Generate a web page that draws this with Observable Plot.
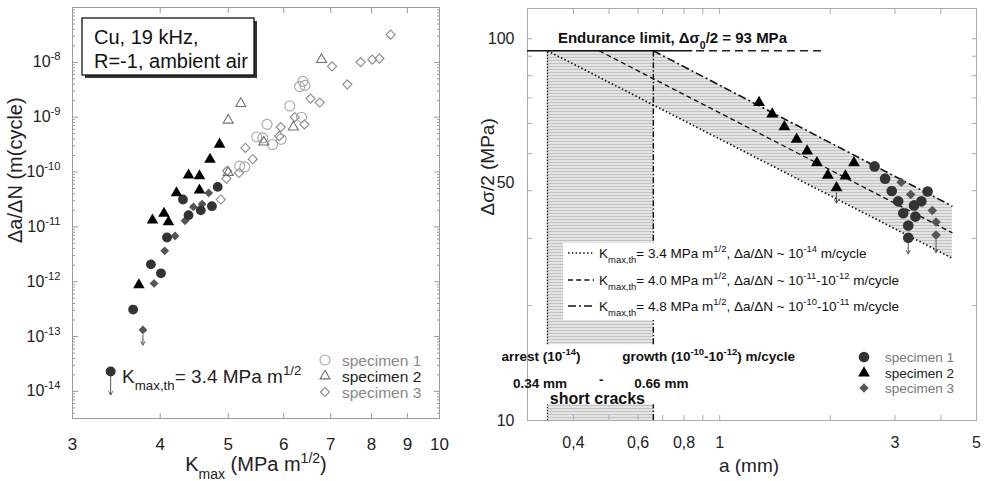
<!DOCTYPE html>
<html><head><meta charset="utf-8">
<script src="https://cdn.jsdelivr.net/npm/d3@7"></script>
<script src="https://cdn.jsdelivr.net/npm/@observablehq/plot@0.6"></script>
<style>
html,body{margin:0;padding:0;background:#fff;}
#chart{position:relative;width:987px;height:481px;overflow:hidden;background:#fff;}
#chart svg{position:absolute;top:0;}
</style></head><body><div id="chart"></div>
<script>
// ---------- LEFT PANEL DATA: K_max (MPa m^1/2) vs da/dN (m/cycle) ----------
const kTicks = [3, 4, 5, 6, 7, 8, 9, 10];
const rateDecades = [1e-14, 1e-13, 1e-12, 1e-11, 1e-10, 1e-9, 1e-8];

const spec1FilledK    = [3.66, 3.88, 4.01, 4.09, 4.31, 4.39, 4.57, 4.74, 4.83];
const spec1FilledRate = [3.1e-13, 2.07e-12, 1.42e-12, 6.4e-12, 3.15e-11, 1.63e-11, 2.0e-11, 2.38e-11, 5.35e-11];
const spec2FilledK    = [3.73, 3.90, 4.05, 4.11, 4.22, 4.39, 4.55, 4.55, 4.71, 4.86];
const spec2FilledRate = [8.7e-13, 1.32e-11, 1.75e-11, 1.23e-11, 4.16e-11, 8.75e-11, 8.5e-11, 4.66e-11, 1.69e-10, 3.2e-10];
const spec3FilledK    = [3.78, 3.92, 4.06, 4.20, 4.34, 4.46, 4.59, 4.69];
const spec3FilledRate = [1.32e-13, 9.3e-13, 3.65e-12, 6.8e-12, 1.29e-11, 2.31e-11, 2.6e-11, 4.16e-11];

const spec1OpenK    = [5.19, 5.28, 5.49, 5.60, 5.68, 5.78, 5.95, 6.12, 6.32, 6.39, 6.43, 6.36];
const spec1OpenRate = [1.28e-10, 1.24e-10, 4.36e-10, 4.2e-10, 7.4e-10, 3.17e-10, 3.95e-10, 1.6e-9, 3.6e-9, 4.5e-9, 3.8e-9, 1.0e-9];
const spec2OpenK    = [5.00, 5.21, 5.00, 5.62, 6.19, 6.79];
const spec2OpenRate = [8.8e-10, 1.77e-9, 9.8e-11, 3.5e-10, 6.6e-10, 1.12e-8];
const spec3OpenK    = [4.88, 4.98, 4.97, 5.18, 5.29, 5.42, 5.94, 5.91, 6.22, 6.42, 6.55, 6.75, 7.03, 7.39, 7.72, 8.02, 8.21, 8.52];
const spec3OpenRate = [3.15e-11, 1.05e-10, 7.6e-11, 9.6e-11, 2.75e-10, 1.71e-10, 6.6e-10, 4.5e-10, 1.0e-9, 7.4e-10, 2.18e-9, 1.85e-9, 8.45e-9, 3.97e-9, 1.01e-8, 1.12e-8, 1.17e-8, 3.2e-8];

const thresholdK = [3.4], thresholdRate = [2.3e-14], thresholdArrowTo = [8.6e-15];
const runoutLeftK = [3.78], runoutLeftRate = [1.32e-13], runoutLeftTo = [7e-14];

// ---------- RIGHT PANEL DATA: a (mm) vs stress amplitude (MPa) ----------
const aTickLabels = [0.4, 0.6, 0.8, 1, 3, 5];
const aTicks = [0.3, 0.4, 0.5, 0.6, 0.7, 0.8, 0.9, 1, 2, 3, 4, 5];
const sTicks = [10, 20, 30, 40, 50, 60, 70, 80, 90, 100];

const rSpec1A = [2.64, 2.82, 2.94, 3.06, 3.16, 3.26, 3.26, 3.38, 3.41, 3.54, 3.68];
const rSpec1S = [46.3, 43.0, 39.9, 37.5, 34.9, 32.4, 30.1, 36.6, 34.2, 37.5, 39.8];
const rSpec2A = [1.28, 1.39, 1.50, 1.62, 1.73, 1.84, 1.97, 2.08, 2.20, 2.32];
const rSpec2S = [68.0, 63.5, 58.8, 54.5, 50.8, 47.3, 43.9, 40.7, 43.7, 47.3];
const rSpec3A = [3.12, 3.31, 3.79, 3.88, 3.88];
const rSpec3S = [42.1, 39.1, 35.5, 33.1, 30.6];
const runoutRightA = [2.08, 3.26, 3.88];
const runoutRightS = [40.7, 30.1, 30.6];
const runoutRightTo = [37.1, 27.3, 27.5];

const enduranceLimit = 93;
const enduranceSolid = [0.3, 0.845];
const enduranceDashed = [0.865, 1.92];

const modelLabels = [
  "K_{max,th}= 3.4 MPa m^{1/2}, Δa/ΔN ~ 10^{-14} m/cycle",
  "K_{max,th}= 4.0 MPa m^{1/2}, Δa/ΔN ~ 10^{-11}-10^{-12} m/cycle",
  "K_{max,th}= 4.8 MPa m^{1/2}, Δa/ΔN ~ 10^{-10}-10^{-11} m/cycle"
];
const modelStartA = [0.34, 0.47, 0.66];
const modelStartS = [93, 93, 93];
const modelEndA = [4.3, 4.3, 4.3];
const modelEndS = [26.6, 31.0, 36.4];

const bandA = [0.66, 4.3];
const bandLow = [67.1, 26.6];
const bandHigh = [93, 36.4];

const shortCrackA = [0.34, 0.66];
const shortCrackLow = [15.8, 10];
const shortCrackHigh = [93, 11];

// ---------- helpers ----------
const zip = (xs, ys) => xs.map((x, i) => ({x, y: ys[i]}));
const FONT = '"Liberation Sans", Arial, Helvetica, sans-serif';
const NS = "http://www.w3.org/2000/svg";

function richify(root) {
  const els = Array.from(root.querySelectorAll("text, tspan"));
  for (const el of els) {
    if (el.children.length) continue;
    const s = el.textContent;
    if (!/[\^_]\{/.test(s)) continue;
    el.textContent = "";
    const re = /([\^_])\{([^}]*)\}/g;
    let last = 0, m;
    const add = (str, kind) => {
      const t = document.createElementNS(NS, "tspan");
      if (kind) {
        t.style.fontSize = "70%";
        t.setAttribute("baseline-shift", kind === "^" ? "0.6em" : "-0.55em");
      }
      t.textContent = str;
      el.appendChild(t);
    };
    while ((m = re.exec(s))) {
      if (m.index > last) add(s.slice(last, m.index));
      add(m[2], m[1]);
      last = re.lastIndex;
    }
    if (last < s.length) add(s.slice(last));
  }
}

// ---------- LEFT PLOT ----------
const rateMinor = [];
for (let e = -15; e <= -8; e++) for (let m = 2; m <= 9; m++) {
  const v = m * Math.pow(10, e);
  if (v >= 3.2e-15 && v <= 1e-7) rateMinor.push(v);
}
const tickOnlyL = {fill: "none", stroke: "#999", label: null};

const left = Plot.plot({
  width: 480, height: 481,
  marginLeft: 72, marginRight: 41, marginTop: 7, marginBottom: 63,
  style: {fontFamily: FONT, background: "transparent", overflow: "visible", color: "#222"},
  x: {type: "log", domain: [3, 10]},
  y: {type: "log", domain: [3.2e-15, 1e-7]},
  marks: [
    Plot.frame({stroke: "#9c9c9c"}),
    Plot.axisY({anchor: "left", ticks: rateDecades, tickSize: -6, ...tickOnlyL}),
    Plot.axisY({anchor: "left", ticks: rateMinor, tickSize: -3, ...tickOnlyL}),
    Plot.axisY({anchor: "right", ticks: rateDecades, tickSize: -6, ...tickOnlyL}),
    Plot.axisY({anchor: "right", ticks: rateMinor, tickSize: -3, ...tickOnlyL}),
    Plot.axisX({anchor: "bottom", ticks: kTicks, tickSize: -5, ...tickOnlyL}),
    Plot.axisX({anchor: "top", ticks: kTicks, tickSize: -5, ...tickOnlyL}),
    Plot.axisY({anchor: "left", ticks: rateDecades, tickSize: 0, tickPadding: 12, fontSize: 16, fill: "#222", label: null,
      tickFormat: d => `10^{${Math.round(Math.log10(d))}}`}),
    Plot.axisX({anchor: "bottom", ticks: kTicks, tickSize: 0, tickPadding: 19, fontSize: 17, fill: "#222", label: null,
      tickFormat: d => String(d)}),
    Plot.text(["Δa/ΔN (m(cycle)"], {text: d => d, frameAnchor: "left", rotate: -90, dx: -57, dy: 30, fontSize: 20, fill: "#222", lineAnchor: "middle"}),
    Plot.text(["K_{max} (MPa m^{1/2})"], {text: d => d, frameAnchor: "bottom", dy: 46, fontSize: 20, fill: "#222", lineAnchor: "middle"}),
    // open symbols (high K)
    Plot.dot(zip(spec3OpenK, spec3OpenRate), {x: "x", y: "y", symbol: "diamond2", r: 4.1, stroke: "#8a8a8a", fill: "none", strokeWidth: 1.1}),
    Plot.dot(zip(spec1OpenK, spec1OpenRate), {x: "x", y: "y", symbol: "circle", r: 5, stroke: "#a6a6a6", fill: "none", strokeWidth: 1.1}),
    Plot.dot(zip(spec2OpenK, spec2OpenRate), {x: "x", y: "y", symbol: "triangle", r: 3.7, stroke: "#707070", fill: "none", strokeWidth: 1.1}),
    // runout arrows
    Plot.arrow(zip(runoutLeftK, runoutLeftRate).map((d, i) => ({...d, y2: runoutLeftTo[i]})),
      {x1: "x", x2: "x", y1: "y", y2: "y2", stroke: "#555", strokeWidth: 1, insetStart: 5, headLength: 6, headAngle: 60}),
    Plot.arrow(zip(thresholdK, thresholdRate).map((d, i) => ({...d, y2: thresholdArrowTo[i]})),
      {x1: "x", x2: "x", y1: "y", y2: "y2", stroke: "#555", strokeWidth: 1, insetStart: 5, headLength: 6, headAngle: 60}),
    // filled symbols (low K)
    Plot.dot(zip(spec3FilledK, spec3FilledRate), {x: "x", y: "y", symbol: "diamond2", r: 4.0, fill: "#555"}),
    Plot.dot(zip(spec1FilledK, spec1FilledRate), {x: "x", y: "y", symbol: "circle", r: 4.9, fill: "#333"}),
    Plot.dot(zip(spec2FilledK, spec2FilledRate), {x: "x", y: "y", symbol: "triangle", r: 4.3, fill: "#000"}),
    Plot.dot(zip(thresholdK, thresholdRate), {x: "x", y: "y", symbol: "circle", r: 5, fill: "#333"}),
    Plot.text(zip(thresholdK, thresholdRate), {x: d => 3.53, y: d => 1.83e-14, text: d => "K_{max,th}= 3.4 MPa m^{1/2}", textAnchor: "start", fontSize: 19, fill: "#222", lineAnchor: "middle"})
  ]
});
left.style.left = "0px";

// ---------- RIGHT PLOT ----------
const tickOnlyR = {fill: "none", stroke: "#aaa", label: null};
const hatch = "url(#hatchFill)";
const modelDash = ["1.5,2.3", "5,3.2", "8,3,2,3"];
const modelWidth = [1.7, 1.3, 1.6];

const right = Plot.plot({
  width: 507, height: 481,
  marginLeft: 47, marginRight: 11, marginTop: 8, marginBottom: 61,
  style: {fontFamily: FONT, background: "transparent", overflow: "visible", color: "#222"},
  x: {type: "log", domain: [0.3, 5]},
  y: {type: "log", domain: [10, 120]},
  marks: [
    Plot.rect(shortCrackLow.map((lo, i) => ({lo, hi: shortCrackHigh[i]})),
      {x1: () => shortCrackA[0], x2: () => shortCrackA[1], y1: "lo", y2: "hi", fill: hatch}),
    Plot.areaY(bandA.map((a, i) => ({a, lo: bandLow[i], hi: bandHigh[i]})),
      {x: "a", y1: "lo", y2: "hi", fill: hatch}),
    Plot.frame({stroke: "#aaa"}),
    Plot.axisY({anchor: "left", ticks: sTicks, tickSize: -5, ...tickOnlyR}),
    Plot.axisY({anchor: "right", ticks: sTicks, tickSize: -5, ...tickOnlyR}),
    Plot.axisX({anchor: "bottom", ticks: aTicks, tickSize: -5, ...tickOnlyR}),
    Plot.axisX({anchor: "top", ticks: aTicks, tickSize: -5, ...tickOnlyR}),
    Plot.axisY({anchor: "left", ticks: [10, 100], tickSize: 0, tickPadding: 13, fontSize: 16, fill: "#222", label: null, tickFormat: d => String(d)}),
    Plot.axisY({anchor: "left", ticks: [50], tickSize: 0, tickPadding: 13, dy: 29, fontSize: 16, fill: "#222", label: null, tickFormat: d => String(d)}),
    Plot.axisX({anchor: "bottom", ticks: aTickLabels, tickSize: 0, tickPadding: 16, fontSize: 16, fill: "#222", label: null,
      tickFormat: d => String(d).replace(".", ",")}),
    Plot.text(["Δσ/2 (MPa)"], {text: d => d, frameAnchor: "left", rotate: -90, dx: -40, dy: 1, fontSize: 19, fill: "#222", lineAnchor: "middle"}),
    Plot.text(["a (mm)"], {text: d => d, frameAnchor: "bottom", dx: -3, dy: 45, fontSize: 19, fill: "#222", lineAnchor: "middle"}),
    // vertical bounds of short-crack range
    Plot.ruleX(shortCrackLow.map((lo, i) => ({lo, hi: shortCrackHigh[i]})),
      {x: () => shortCrackA[0], y1: "lo", y2: "hi", stroke: "#111", strokeWidth: 1.3, strokeDasharray: "1.3,1.7"}),
    Plot.ruleX(shortCrackLow.map((lo, i) => ({lo, hi: shortCrackHigh[i]})),
      {x: () => shortCrackA[1], y1: "lo", y2: "hi", stroke: "#111", strokeWidth: 1.5, strokeDasharray: "6,2,1.5,2"}),
    // model lines
    ...modelStartA.map((a0, i) => Plot.line([{a: a0, s: modelStartS[i]}, {a: modelEndA[i], s: modelEndS[i]}],
      {x: "a", y: "s", stroke: "#111", strokeWidth: modelWidth[i], strokeDasharray: modelDash[i], strokeLinecap: "butt"})),
    // endurance limit
    Plot.ruleY([enduranceLimit], {y: d => d, x1: () => enduranceSolid[0], x2: () => enduranceSolid[1], stroke: "#111", strokeWidth: 1.6}),
    Plot.ruleY([enduranceLimit], {y: d => d, x1: () => enduranceDashed[0], x2: () => enduranceDashed[1], stroke: "#222", strokeWidth: 1.3, strokeDasharray: "8,5"}),
    // runout arrows
    Plot.arrow(runoutRightA.map((a, i) => ({a, s: runoutRightS[i], s2: runoutRightTo[i]})),
      {x1: "a", x2: "a", y1: "s", y2: "s2", stroke: "#555", strokeWidth: 1, insetStart: 5, headLength: 6, headAngle: 60}),
    // data
    Plot.dot(zip(rSpec3A, rSpec3S), {x: "x", y: "y", symbol: "diamond2", r: 4.3, fill: "#555"}),
    Plot.dot(zip(rSpec1A, rSpec1S), {x: "x", y: "y", symbol: "circle", r: 5.3, fill: "#333"}),
    Plot.dot(zip(rSpec2A, rSpec2S), {x: "x", y: "y", symbol: "triangle", r: 4.4, fill: "#000"}),
    // annotations (data-space positions)
    Plot.text(["Endurance limit, Δσ_{0}/2 = 93 MPa"], {text: d => d, x: () => 0.363, y: () => 100.6, textAnchor: "start", lineAnchor: "middle", fontSize: 15, fontWeight: "bold", fill: "#111"}),
    Plot.text(["arrest (10^{-14})"], {text: d => d, x: () => 0.255, y: () => 14.7, textAnchor: "start", lineAnchor: "middle", fontSize: 13.5, fontWeight: "bold", fill: "#111"}),
    Plot.text(["growth (10^{-10}-10^{-12}) m/cycle"], {text: d => d, x: () => 0.543, y: () => 14.7, textAnchor: "start", lineAnchor: "middle", fontSize: 13.5, fontWeight: "bold", fill: "#111"}),
    Plot.text(["0.34 mm"], {text: d => d, x: () => 0.274, y: () => 12.5, textAnchor: "start", lineAnchor: "middle", fontSize: 13.5, fontWeight: "bold", fill: "#111"}),
    Plot.text(["-"], {text: d => d, x: () => 0.476, y: () => 12.78, textAnchor: "middle", lineAnchor: "middle", fontSize: 13.5, fontWeight: "bold", fill: "#111"}),
    Plot.text(["0.66 mm"], {text: d => d, x: () => 0.586, y: () => 12.5, textAnchor: "start", lineAnchor: "middle", fontSize: 13.5, fontWeight: "bold", fill: "#111"}),
    Plot.text(["short cracks"], {text: d => d, x: () => 0.345, y: () => 11.42, textAnchor: "start", lineAnchor: "middle", fontSize: 16, fontWeight: "bold", fill: "#111"})
  ]
});
right.style.left = "480px";

// hatch pattern
{
  const defs = d3.select(right).insert("defs", ":first-child");
  const p = defs.append("pattern").attr("id", "hatchFill").attr("patternUnits", "userSpaceOnUse")
    .attr("width", 6).attr("height", 3);
  p.append("rect").attr("width", 6).attr("height", 3).attr("fill", "#e4e4e4");
  p.append("rect").attr("width", 6).attr("height", 1).attr("fill", "#c2c2c2");
}

// ---------- legends & boxes ----------
const sym = (type, r) => d3.symbol(type, Math.PI * r * r)();
{
  const g = d3.select(left).append("g").attr("font-family", FONT).attr("text-anchor", "start");
  // text box with shadow
  g.append("rect").attr("x", 85).attr("y", 21).attr("width", 172).attr("height", 57).attr("fill", "#333");
  g.append("rect").attr("x", 82).attr("y", 18).attr("width", 172).attr("height", 57).attr("fill", "#fff").attr("stroke", "#111").attr("stroke-width", 1.3);
  g.append("text").attr("x", 94).attr("y", 44).attr("font-size", 20).attr("fill", "#111").text("Cu, 19 kHz,");
  g.append("text").attr("x", 94).attr("y", 68).attr("font-size", 20).attr("fill", "#111").text("R=-1, ambient air");
  const items = [
    {t: "specimen 1", s: d3.symbolCircle, r: 5, stroke: "#a6a6a6", col: "#888"},
    {t: "specimen 2", s: d3.symbolTriangle, r: 3.7, stroke: "#707070", col: "#222"},
    {t: "specimen 3", s: d3.symbolDiamond2, r: 4.1, stroke: "#8a8a8a", col: "#888"}
  ];
  const ys = [360, 376, 392];
  items.forEach((it, i) => {
    g.append("path").attr("d", sym(it.s, it.r)).attr("transform", `translate(325,${ys[i]})`)
      .attr("fill", "none").attr("stroke", it.stroke).attr("stroke-width", 1.1);
    g.append("text").attr("x", 342).attr("y", ys[i] + 5.5).attr("font-size", 15.5).attr("fill", it.col).text(it.t);
  });
}
{
  const g = d3.select(right).append("g").attr("font-family", FONT).attr("text-anchor", "start");
  g.append("rect").attr("x", 83).attr("y", 243).attr("width", 340).attr("height", 77).attr("fill", "#fff");
  const ys = [253, 280, 306];
  modelLabels.forEach((lab, i) => {
    g.append("line").attr("x1", 88).attr("x2", 114).attr("y1", ys[i]).attr("y2", ys[i])
      .attr("stroke", "#111").attr("stroke-width", modelWidth[i]).attr("stroke-dasharray", modelDash[i]);
    g.append("text").attr("x", 119).attr("y", ys[i] + 4.8).attr("font-size", 13.5).attr("fill", "#111").text(lab);
  });
  const items = [
    {t: "specimen 1", s: d3.symbolCircle, r: 5.3, fill: "#333", col: "#777"},
    {t: "specimen 2", s: d3.symbolTriangle, r: 4.4, fill: "#000", col: "#222"},
    {t: "specimen 3", s: d3.symbolDiamond2, r: 4.3, fill: "#555", col: "#777"}
  ];
  const ly = [357, 373, 388];
  items.forEach((it, i) => {
    g.append("path").attr("d", sym(it.s, it.r)).attr("transform", `translate(384,${ly[i]})`).attr("fill", it.fill);
    g.append("text").attr("x", 405).attr("y", ly[i] + 4.8).attr("font-size", 13.5).attr("fill", it.col).text(it.t);
  });
}

richify(left);
richify(right);
const chart = document.getElementById("chart");
chart.appendChild(left);
chart.appendChild(right);
</script></body></html>
